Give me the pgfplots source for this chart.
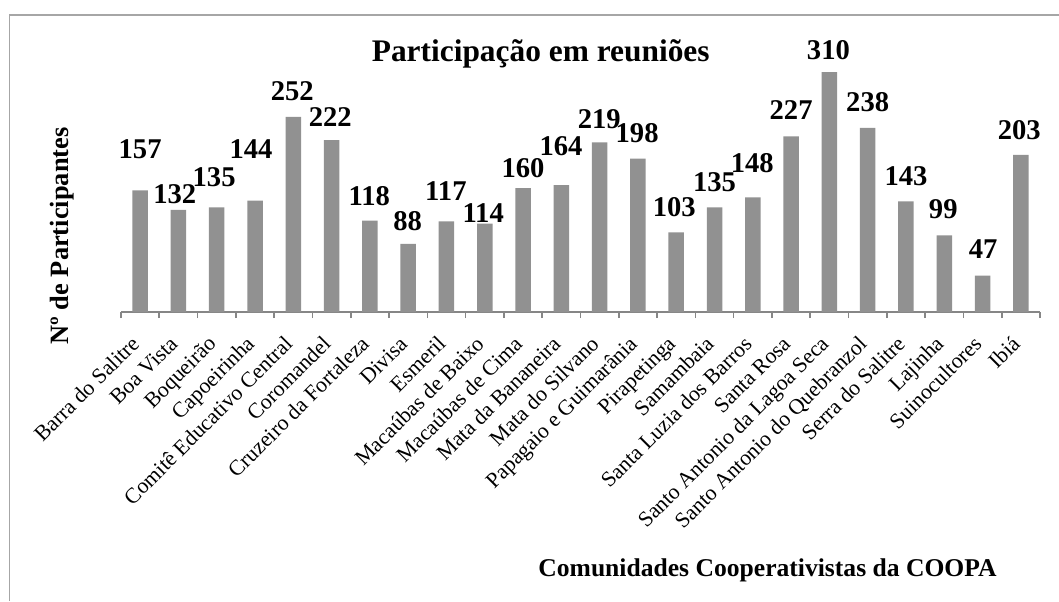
\documentclass[border=0pt]{standalone}
\usepackage{pgfplots}
\pgfplotsset{compat=1.18}
\usepackage{pgfplotstable}
\usepackage{fontspec}
\setmainfont{Liberation Serif}
\definecolor{barc}{RGB}{145,145,145}
\definecolor{axc}{RGB}{134,134,134}
\definecolor{borderc}{RGB}{166,166,166}

\pgfplotstableread{
x y dx dy
0 157 0 20.5
1 132 -1.8 7.8
2 135 -1.3 15.2
3 144 -2 25.8
4 252 -0.5 12.8
5 222 -0.7 11.5
6 118 -0.3 12.3
7 88 -0.3 11.5
8 117 -0.3 15.3
9 114 -0.8 5.3
10 160 0 10
11 164 -0.2 19.2
12 219 -0.2 11.7
13 198 -0.4 12.8
14 103 -1 12.5
15 135 0 12.7
16 148 -0.3 17.2
17 227 0 13
18 310 -0.5 11
19 238 0 12.8
20 143 0 12.6
21 99 -0.5 13
22 47 0.3 13.3
23 203 -0.8 12.5
}\datatable

\begin{document}
\begin{tikzpicture}
\path[use as bounding box] (0,0) rectangle (529.5pt,300.5pt);
\draw[borderc, line width=0.6pt] (4.6pt,0pt) -- (4.6pt,293pt) -- (529.5pt,293pt);
\begin{axis}[
  at={(60.5pt,144.5pt)}, anchor=south west, scale only axis,
  width=459.5pt, height=123.87pt,
  xmin=-0.5, xmax=23.5, ymin=0, ymax=320,
  clip=false,
  hide y axis,
  axis x line*=bottom,
  x axis line style={axc, line width=0.8pt},
  xtick={0,...,23}, major tick length=0pt,
  minor xtick={-0.5,0.5,...,23.5}, minor tick length=3pt,
  tick align=outside,
  minor tick style={axc, line width=0.8pt},
  xticklabels={Barra do Salitre, Boa Vista, Boqueirão, Capoeirinha, Comitê Educativo Central, Coromandel, Cruzeiro da Fortaleza, Divisa, Esmeril, Macaúbas de Baixo, Macaúbas de Cima, Mata da Bananeira, Mata do Silvano, Papagaio e Guimarânia, Pirapetinga, Samambaia, Santa Luzia dos Barros, Santa Rosa, Santo Antonio da Lagoa Seca, Santo Antonio do Quebranzol, Serra do Salitre, Lajinha, Suinocultores, Ibiá},
  xticklabel style={xshift=0.3pt, yshift=-16.5pt, rotate=45, anchor=base east, inner sep=0pt, font=\fontsize{10.9}{13}\selectfont},
  /pgf/number format/assume math mode=true,
  ybar, bar width=0.405,
]
\addplot[fill=barc, draw=none,
  nodes near coords,
  visualization depends on={\thisrow{dx} \as \dx},
  visualization depends on={\thisrow{dy} \as \dy},
  every node near coord/.append style={anchor=center, xshift=\dx*1pt, yshift=\dy*1pt, font=\fontsize{14.3}{16}\selectfont\bfseries, text=black, inner sep=0pt},
] table[x=x, y=y] {\datatable};
\end{axis}
\node[anchor=base, font=\fontsize{15.7}{18}\selectfont\bfseries] at (270.35pt,269.65pt) {Participação em reuniões};
\node[anchor=base, rotate=90, font=\fontsize{13.2}{16}\selectfont\bfseries] at (34pt,182.5pt) {Nº de Participantes};
\node[anchor=base, font=\fontsize{12.8}{15}\selectfont\bfseries] at (383.75pt,12.15pt) {Comunidades Cooperativistas da COOPA};
\end{tikzpicture}
\end{document}
